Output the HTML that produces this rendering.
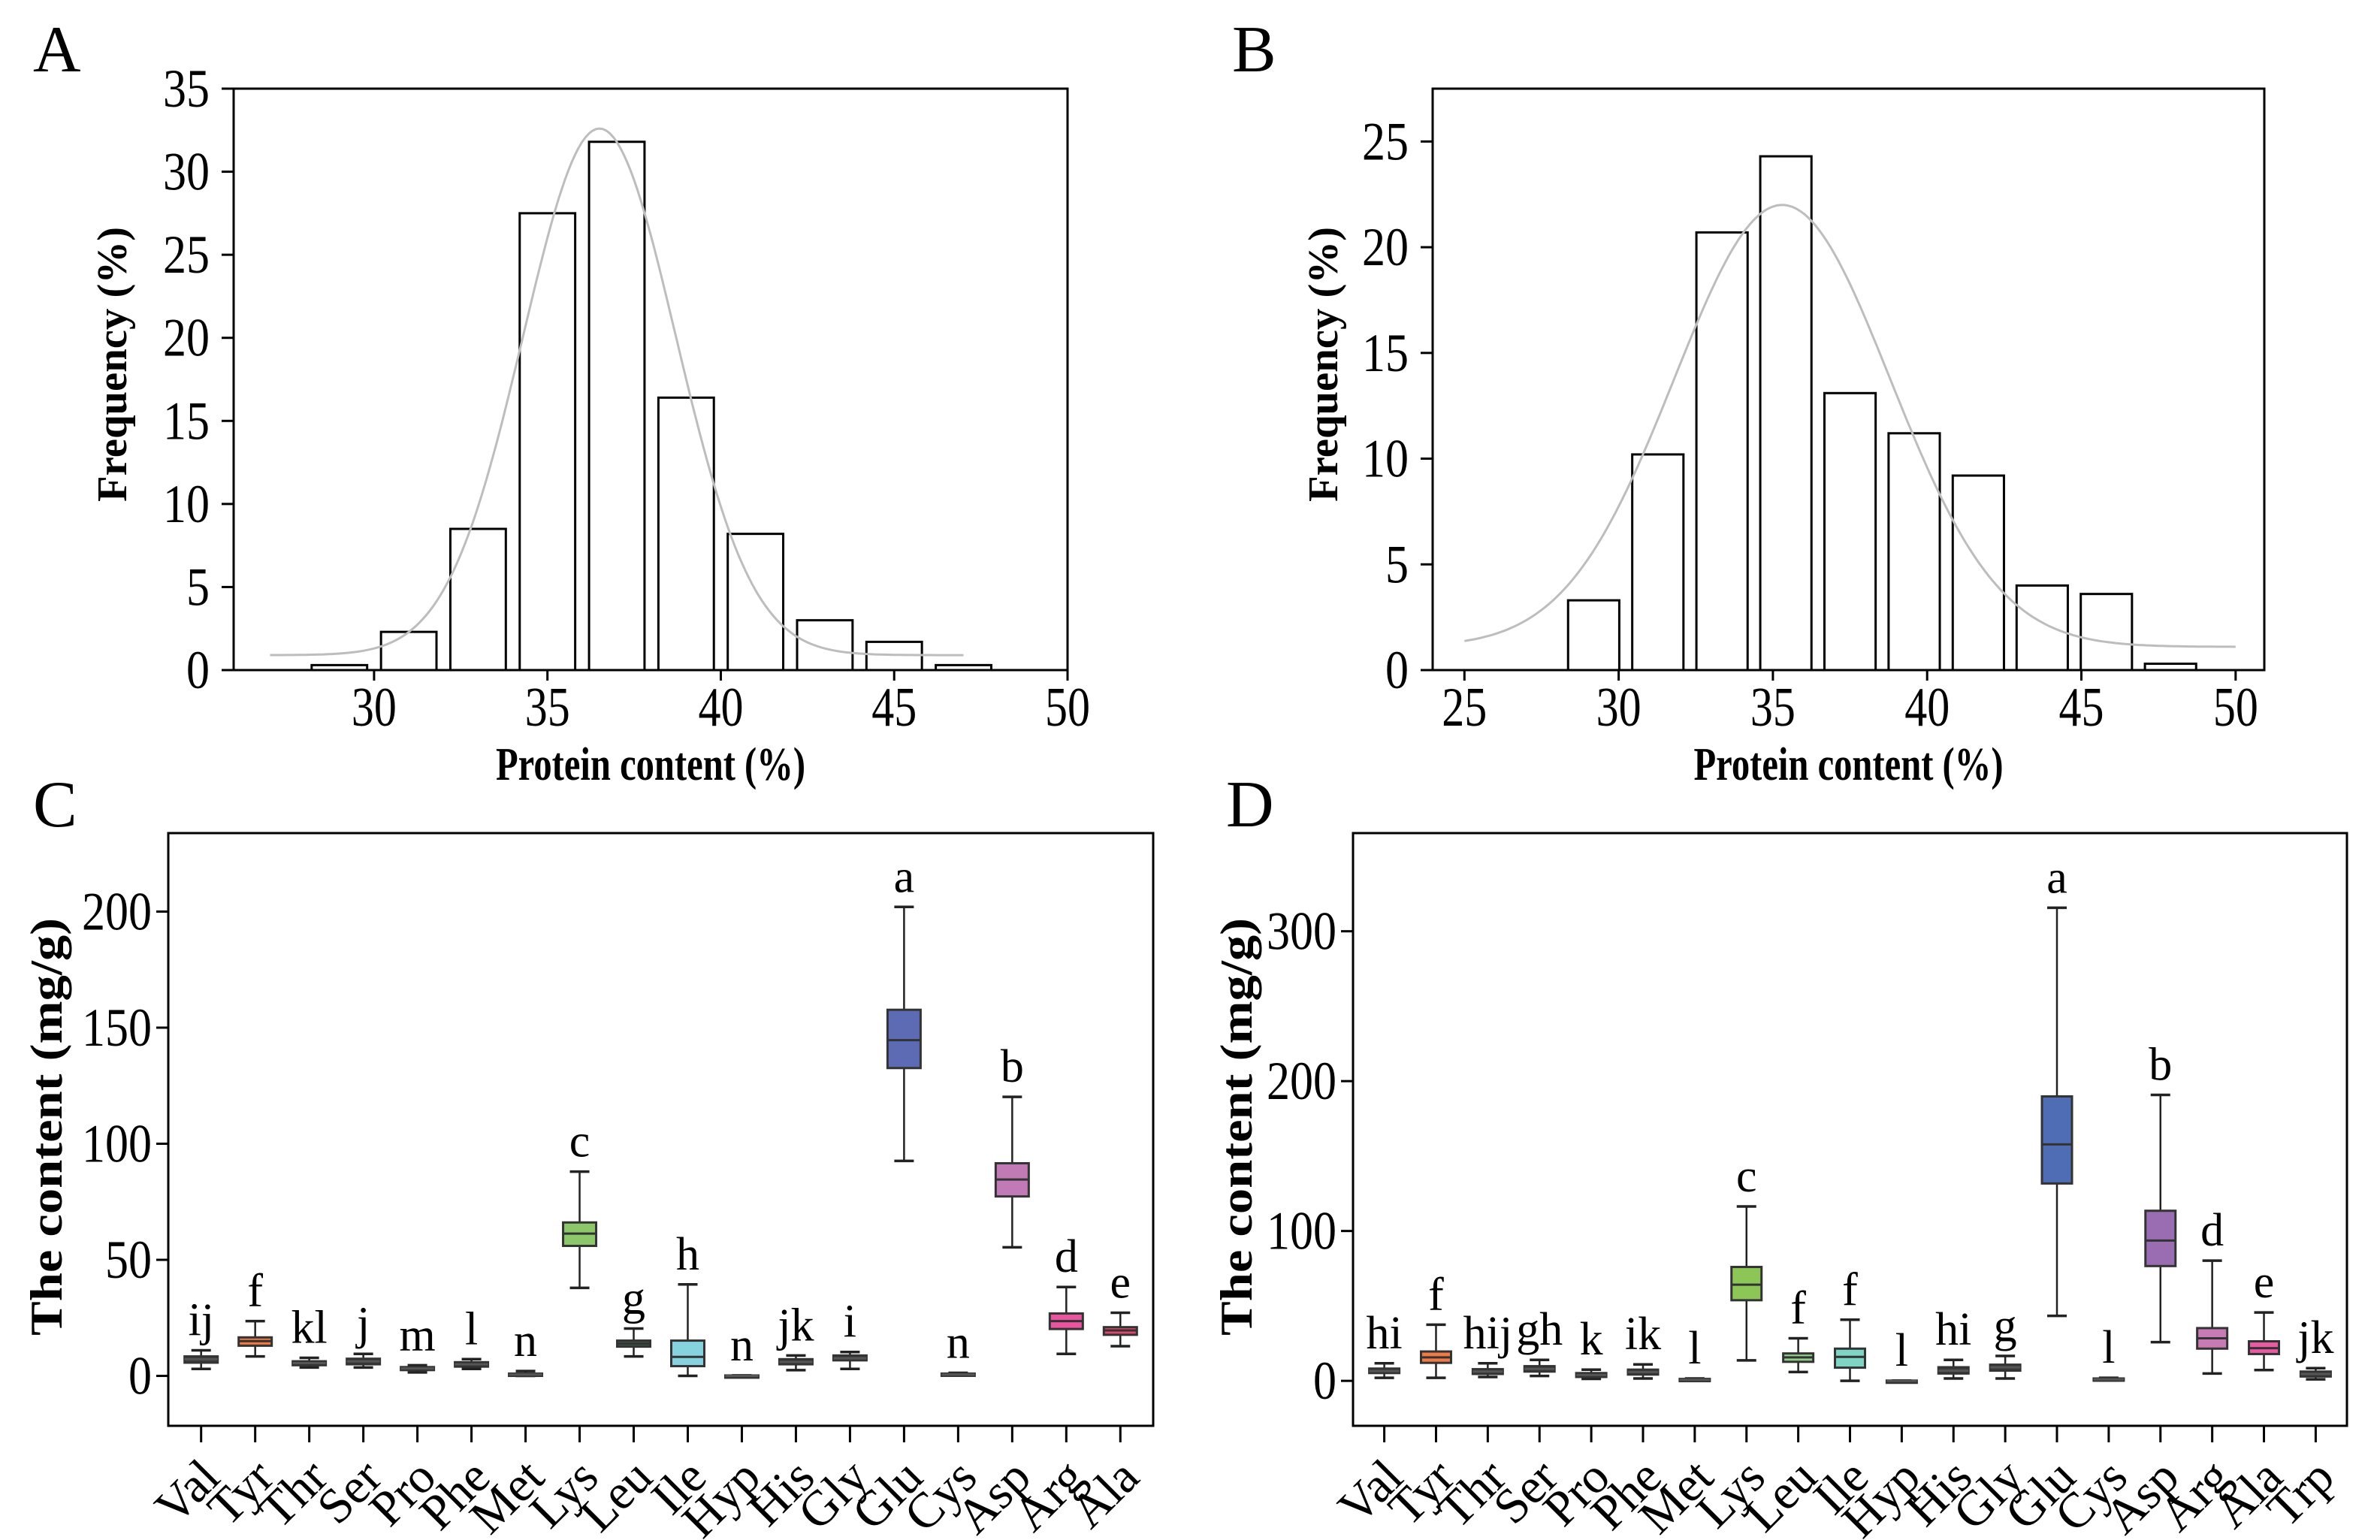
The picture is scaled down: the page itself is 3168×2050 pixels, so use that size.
<!DOCTYPE html>
<html><head><meta charset="utf-8"><style>
html,body{margin:0;padding:0;background:#fff;}
svg{display:block;font-family:"Liberation Serif",serif;}
</style></head><body>
<svg id="fig" width="3168" height="2050" viewBox="0 0 3168 2050" xmlns="http://www.w3.org/2000/svg"></svg>
<script>
// ---- Panel A data ----
const binCentersA = [29,31,33,35,37,39,41,43,45,47];
const freqA = [0.3,2.3,8.5,27.5,31.8,16.4,8.2,3.0,1.7,0.3];
const xTicksA = [30,35,40,45,50];
const yTicksA = [0,5,10,15,20,25,30,35];
const fitA = {mean:36.5, sd:2.2, peak:31.7, base:0.9, from:27, to:47};
// ---- Panel B data ----
const binCentersB = [29.19,31.27,33.35,35.42,37.5,39.58,41.66,43.73,45.81,47.89];
const freqB = [3.3,10.2,20.7,24.3,13.1,11.2,9.2,4.0,3.6,0.3];
const xTicksB = [25,30,35,40,45,50];
const yTicksB = [0,5,10,15,20,25];
const fitB = {mean:35.3, sd:3.5, peak:20.9, base:1.1, from:25, to:50};
// ---- Panel C data ----
const catsC = ["Val","Tyr","Thr","Ser","Pro","Phe","Met","Lys","Leu","Ile","Hyp","His","Gly","Glu","Cys","Asp","Arg","Ala"];
const loC  = [3,8.4,3.6,3.6,1.5,3,0,37.9,8.4,0,0,2.5,3,92.6,0.2,55.4,9.5,12.8];
const q1C  = [5.7,13,4.6,5,2.5,4,0,56,12.6,4.2,0,5,6.7,132.6,0.2,77.3,20.2,17.7];
const medC = [7.2,15,5.5,6.3,3.2,5,0.6,61.3,13.9,8.2,0,6,7.6,144.6,0.6,84.6,23.6,19.6];
const q3C  = [8.4,16.6,6.3,7.4,3.8,5.9,1.0,66.1,15.2,15.2,0.2,7.2,8.8,157.7,1.0,91.6,26.9,21];
const hiC  = [11,23.6,7.8,9.5,4.6,7.2,2.1,88,20.4,39.4,0.2,8.8,10.3,202,1.3,120.2,38.3,27.2];
const letC = ["ij","f","kl","j","m","l","n","c","g","h","n","jk","i","a","n","b","d","e"];
const yTicksC = [0,50,100,150,200];
// ---- Panel D data ----
const catsD = ["Val","Tyr","Thr","Ser","Pro","Phe","Met","Lys","Leu","Ile","Hyp","His","Gly","Glu","Cys","Asp","Arg","Ala","Trp"];
const loD  = [2,2,2.6,3.3,1.3,1.6,0,13.7,5.9,0,0,1.6,1.6,43.4,0.3,25.8,4.9,7.2,1];
const q1D  = [5.2,12,4.6,6.2,2.6,4.2,0,53.8,12.7,8.8,0,4.9,6.8,131.7,0.3,76.6,21.5,17.9,2.9];
const medD = [6.5,15.7,6.2,8,3.9,5.9,0.7,64.2,15.7,16,0,6.8,9.1,157.8,1,93.6,28.4,21.8,4.6];
const q3D  = [8.2,19.6,7.8,9.8,5.2,7.5,1.3,76,18.3,21.5,0.2,9.1,10.8,189.8,1.6,113.5,35.2,26.4,6.2];
const hiD  = [11.7,37.5,11.7,14,7.5,11,1.6,116.4,28.4,40.8,0.2,14,16.6,315.7,2,190.8,80.2,45.6,8.5];
const letD = ["hi","f","hij","gh","k","ik","l","c","f","f","l","hi","g","a","l","b","d","e","jk"];
const yTicksD = [0,100,200,300];

const NS="http://www.w3.org/2000/svg";
const svg=document.getElementById('fig');
function el(tag,attrs,parent){const e=document.createElementNS(NS,tag);for(const k in attrs)e.setAttribute(k,attrs[k]);(parent||svg).appendChild(e);return e;}
function txt(s,attrs,parent){const e=el('text',attrs,parent);e.textContent=s;return e;}
function lin(d0,d1,r0,r1){return v=>r0+(v-d0)*(r1-r0)/(d1-d0);}

const smallFill="#3c3c3c";
const colorsC={Tyr:"#f07a45",Lys:"#8cc86a",Leu:"#3e5a48",Ile:"#86d2df",Glu:"#5c6bb3",Asp:"#c27ab6",Arg:"#e9559f",Ala:"#e4456e"};
const colorsD={Tyr:"#f07a45",Lys:"#8cc657",Leu:"#8fcf8a",Ile:"#7fd5c4",Glu:"#4e6db4",Asp:"#9a6db3",Arg:"#c87ab5",Ala:"#ea5aa3"};

function panelLetter(s,x,y){const t=txt(s,{x:x,y:y,'font-size':88});

}

function histogram(id,box,xd,yd,centers,freq,bw,xticks,yticks,fit,ytitleX){
  const g=el('g',{});
  
  
  const X=lin(xd[0],xd[1],box.l,box.r), Y=lin(0,yd,box.b,box.t);
  centers.forEach((c,i)=>{
    const r=el('rect',{x:X(c-bw/2),y:Y(freq[i]),width:X(c+bw/2)-X(c-bw/2),height:Y(0)-Y(freq[i]),fill:'#fff',stroke:'#000','stroke-width':3},g);
    
    
  });
  let d='';
  for(let i=0;i<=200;i++){const x=fit.from+(fit.to-fit.from)*i/200;const y=fit.base+fit.peak*Math.exp(-Math.pow(x-fit.mean,2)/(2*fit.sd*fit.sd));d+=(i?'L':'M')+X(x).toFixed(1)+','+Y(y).toFixed(1);}
  const p=el('path',{d:d,fill:'none',stroke:'#bdbdbd','stroke-width':3},g);
  
  
  const f=el('rect',{x:box.l,y:box.t,width:box.r-box.l,height:box.b-box.t,fill:'none',stroke:'#000','stroke-width':3},g);
  
  
  xticks.forEach(v=>{el('line',{x1:X(v),x2:X(v),y1:box.b,y2:box.b+14,stroke:'#000','stroke-width':3},g);
    const t=txt(String(v),{x:X(v),y:box.b+74,'font-size':74,'text-anchor':'middle',textLength:60,lengthAdjust:'spacingAndGlyphs'},g);
    
    });
  yticks.forEach(v=>{el('line',{x1:box.l-16,x2:box.l,y1:Y(v),y2:Y(v),stroke:'#000','stroke-width':3},g);
    const w=String(v).length*31;
    const t=txt(String(v),{x:box.l-32,y:Y(v)+24,'font-size':72,'text-anchor':'end',textLength:w,lengthAdjust:'spacingAndGlyphs'},g);
    
    });
  const xt=txt('Protein content (%)',{x:(box.l+box.r)/2,y:1038,'font-size':62,'font-weight':'bold','text-anchor':'middle',textLength:412,lengthAdjust:'spacingAndGlyphs'},g);
  
  
  const yt=txt('Frequency (%)',{x:0,y:0,'font-size':56,'font-weight':'bold','text-anchor':'middle',textLength:366,lengthAdjust:'spacingAndGlyphs',transform:'translate('+ytitleX+',485) rotate(-90)'},g);
  
  
}

function boxplot(id,box,ymin,ymax,cats,lo,q1,med,q3,hi,lets,yticks,colors,bw,ytitleX){
  const g=el('g',{});
  
  
  const n=cats.length;
  const Y=lin(ymin,ymax,box.b,box.t);
  const X=i=>box.l+box.pad+i*(box.r-box.l-2*box.pad)/(n-1);
  const f=el('rect',{x:box.l,y:box.t,width:box.r-box.l,height:box.b-box.t,fill:'none',stroke:'#000','stroke-width':3},g);
  
  
  cats.forEach((c,i)=>{
    const x=X(i);
    const gg=el('g',{},g);
    
    
    el('line',{x1:x,x2:x,y1:Y(hi[i]),y2:Y(lo[i]),stroke:'#222','stroke-width':2.5},gg);
    el('line',{x1:x-13,x2:x+13,y1:Y(hi[i]),y2:Y(hi[i]),stroke:'#222','stroke-width':3.5},gg);
    el('line',{x1:x-13,x2:x+13,y1:Y(lo[i]),y2:Y(lo[i]),stroke:'#222','stroke-width':3.5},gg);
    const h=Math.max(Y(q1[i])-Y(q3[i]),3);
    el('rect',{x:x-bw/2,y:Y(q3[i]),width:bw,height:h,fill:colors[c]||smallFill,stroke:'#333','stroke-width':3},gg);
    el('line',{x1:x-bw/2,x2:x+bw/2,y1:Y(med[i]),y2:Y(med[i]),stroke:colors[c]?'#333':'#555','stroke-width':3},gg);
    const lt=txt(lets[i],{x:x,y:Y(hi[i])-20,'font-size':62,'text-anchor':'middle'},g);
    
    
    el('line',{x1:x,x2:x,y1:box.b,y2:box.b+22,stroke:'#000','stroke-width':3},g);
    const t=txt(c,{x:0,y:0,'font-size':66,'text-anchor':'end',transform:'translate('+(x+28)+','+(box.b+72)+') rotate(-45)'},g);
    
    
  });
  yticks.forEach(v=>{el('line',{x1:box.l-16,x2:box.l,y1:Y(v),y2:Y(v),stroke:'#000','stroke-width':3},g);
    const w=String(v).length*31;
    const t=txt(String(v),{x:box.l-22,y:Y(v)+24,'font-size':72,'text-anchor':'end',textLength:w,lengthAdjust:'spacingAndGlyphs'},g);
    
    });
  const yt=txt('The content (mg/g)',{x:0,y:0,'font-size':60,'font-weight':'bold','text-anchor':'middle',textLength:556,lengthAdjust:'spacingAndGlyphs',transform:'translate('+ytitleX+',1500) rotate(-90)'},g);
  
  
}

panelLetter('A',44,95);
panelLetter('B',1640,95);
panelLetter('C',44,1100);
panelLetter('D',1632,1100);

histogram('a',{l:311,r:1421,t:118,b:892},[25.95,50],35,binCentersA,freqA,1.6,xTicksA,yTicksA,fitA,168);
histogram('b',{l:1907,r:3014,t:118,b:892},[23.97,50.93],27.5,binCentersB,freqB,1.66,xTicksB,yTicksB,fitB,1780);
boxplot('c',{l:224,r:1535,t:1109,b:1898,pad:43.7},-21.5,233.8,catsC,loC,q1C,medC,q3C,hiC,letC,yTicksC,colorsC,44,82);
boxplot('d',{l:1801,r:3124,t:1109,b:1898,pad:41.6},-30,365.5,catsD,loD,q1D,medD,q3D,hiD,letD,yTicksD,colorsD,40,1666);
</script>
</body></html>
